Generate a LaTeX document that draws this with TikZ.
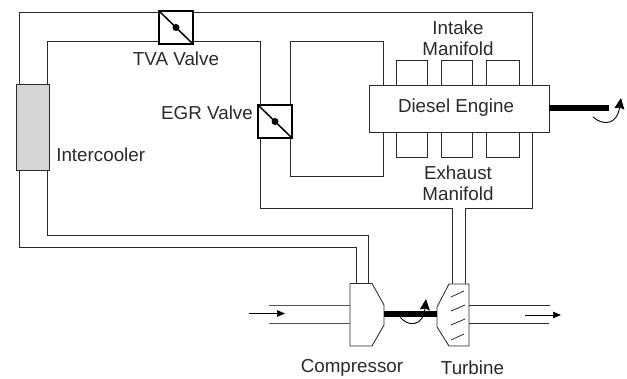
\documentclass[tikz,border=0pt]{standalone}
\usepackage{fontspec}
\setmainfont{Liberation Sans}
\usetikzlibrary{arrows.meta}
\definecolor{ink}{HTML}{2A2A2A}
\definecolor{coolfill}{HTML}{D4D5D7}
\tikzset{
  pipe/.style={draw=ink,line width=0.85pt,line join=miter},
  valvebox/.style={draw=black,line width=1.7pt,fill=white,inner sep=0pt,outer sep=0pt,minimum width=33.5pt,minimum height=32.5pt},
  box/.style={draw=ink,line width=0.85pt,fill=white,inner sep=0pt,outer sep=0pt},
  label/.style={text=ink,inner sep=0pt,font=\fontsize{18.8}{21}\selectfont,anchor=center},
  shaft/.style={draw=black,line width=6pt},
  spin/.style={draw=black,line width=0.9pt,-{Stealth[length=11pt,width=10pt,inset=1.5pt]}},
  flow/.style={draw=black,line width=0.9pt,-{Stealth[length=8pt,width=6.5pt,inset=0.5pt]}},
  blade/.style={draw=ink,line width=0.8pt}
}
\begin{document}
\begin{tikzpicture}[x=1pt,y=-1pt]
\useasboundingbox (0,0) rectangle (627,379);
% named grid positions
\coordinate (xa) at (19,0);
\coordinate (xb) at (47,0);
\coordinate (xc) at (260,0);
\coordinate (xd) at (290,0);
\coordinate (xe) at (383,0);
\coordinate (xf) at (532.5,0);
\coordinate (xg) at (452,0);
\coordinate (xh) at (465,0);
\coordinate (xi) at (356,0);
\coordinate (xj) at (368,0);
\coordinate (ya) at (0,12);
\coordinate (yb) at (0,41);
\coordinate (yc) at (0,176);
\coordinate (yd) at (0,208);
\coordinate (ye) at (0,235);
\coordinate (yf) at (0,247);
% devices
\node[box,fill=coolfill,minimum width=33pt,minimum height=86.5pt] (cooler) at (32.7,127.2) {};
\node[valvebox] (tva) at (176,27.5) {};
\node[valvebox] (egr) at (275,121.5) {};
\coordinate (compN) at (350,283.5);
\coordinate (turbN) at (469,284);
% pipes
\draw[pipe] (xa |- cooler.north) -- (xa |- ya) -- (tva.west |- ya);
\draw[pipe] (tva.east |- ya) -- (xf |- ya) -- (xf |- yd) -- (xh |- yd) -- (xh |- turbN);
\draw[pipe] (xb |- cooler.north) -- (xb |- yb) -- (tva.west |- yb);
\draw[pipe] (tva.east |- yb) -- (xc |- yb) -- (xc |- egr.north);
\draw[pipe] (xc |- egr.south) -- (xc |- yd) -- (xg |- yd) -- (xg |- turbN);
\draw[pipe] (xd |- egr.north) -- (xd |- yb) -- (xe |- yb) -- (xe |- yc) -- (xd |- yc) -- (xd |- egr.south);
\draw[pipe] (xa |- cooler.south) -- (xa |- yf) -- (xi |- yf) -- (xi |- compN);
\draw[pipe] (xb |- cooler.south) -- (xb |- ye) -- (xj |- ye) -- (xj |- compN);
% valve details
\draw[line width=1.5pt,draw=black] (tva.north west) -- (tva.south east);
\fill[black] (tva.center) circle (3.5pt);
\draw[line width=1.5pt,draw=black] (egr.north west) -- (egr.south east);
\fill[black] (egr.center) circle (3.5pt);
% manifolds
\node[box,minimum width=31pt,minimum height=30pt] (in1) at (412,75) {};
\node[box,minimum width=31.5pt,minimum height=30pt] (in2) at (456.7,75) {};
\node[box,minimum width=33pt,minimum height=30pt] (in3) at (502.5,75) {};
\node[box,minimum width=31pt,minimum height=30pt] (ex1) at (412,142) {};
\node[box,minimum width=31.5pt,minimum height=30pt] (ex2) at (456.7,142) {};
\node[box,minimum width=33pt,minimum height=30pt] (ex3) at (502.5,142) {};
% engine
\node[box,minimum width=180pt,minimum height=47pt] (engine) at (459,108.5) {};
\coordinate (shaftEnd) at (609,108.5);
\draw[shaft] (engine.east) -- (shaftEnd);
\coordinate (spinA) at (593,117);
\coordinate (spinB) at (621,98);
\draw[spin] (spinA) .. controls (603,126) and (617,125) .. (spinB);
% compressor and turbine
\draw[pipe,fill=white] (compN) -- (372,283.5) -- (384,305) -- (384,325) -- (372,346) -- (350,346) -- cycle;
\draw[pipe,fill=white] (turbN) -- (449,284) -- (437,307) -- (437,327) -- (449,346) -- (469,346) -- cycle;
\coordinate (compE) at (384,314.5);
\coordinate (turbW) at (437,314.5);
\draw[shaft] (compE) -- (turbW);
\coordinate (spinC) at (400,317);
\coordinate (spinD) at (426,299);
\draw[spin] (spinC) .. controls (408,327) and (423,327) .. (spinD);
\draw[blade] (451,297) -- (464,291);
\draw[blade] (451,311) -- (465,305);
\draw[blade] (451,325) -- (465,319);
\draw[blade] (451,340) -- (464,334);
% inlet and outlet
\coordinate (inA) at (269,305);
\coordinate (inB) at (269,323);
\coordinate (outA) at (550,305.5);
\coordinate (outB) at (549,323.5);
\draw[pipe,draw=ink!80] (inA) -- (inA -| compN);
\draw[pipe,draw=ink!80] (inB) -- (inB -| compN);
\draw[pipe] (outA -| turbN) -- (outA);
\draw[pipe] (outB -| turbN) -- (outB);
\coordinate (flowA) at (249,313.5);
\coordinate (flowB) at (285,313.5);
\coordinate (flowC) at (525,315);
\coordinate (flowD) at (561,315);
\draw[flow] (flowA) -- (flowB);
\draw[flow] (flowC) -- (flowD);
% labels
\node[label] (ltva) at (176,58.5) {TVA Valve};
\node[label] (legr) at (207,113) {EGR Valve};
\node[label] (lcool) at (100.7,155) {Intercooler};
\node[label] (lin1) at (458,28) {Intake};
\node[label] (lin2) at (458,48.5) {Manifold};
\node[label] (lde) at (456,108) {Diesel Engine};
\node[label] (lex1) at (458,173) {Exhaust};
\node[label] (lex2) at (458,194) {Manifold};
\node[label] (lcomp) at (352,368) {Compressor};
\node[label] (lturb) at (472.5,367.5) {Turbine};
\end{tikzpicture}
\end{document}
